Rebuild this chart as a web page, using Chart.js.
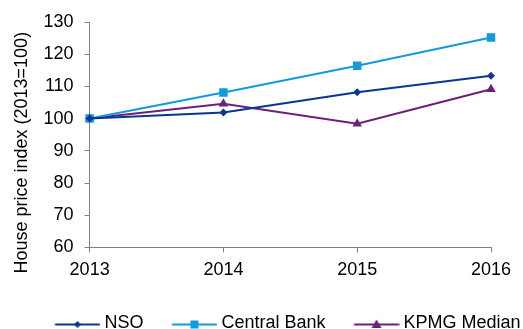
<!DOCTYPE html>
<html lang="en">
<head>
  <meta charset="UTF-8">
  <title>House price index</title>
  <style>
    html, body { margin: 0; padding: 0; background: #fff; }
    #wrap { width: 523px; height: 329px; position: relative; }
  </style>
</head>
<body>
  <div id="wrap"><canvas id="grafico"></canvas></div>

  <script src="https://cdn.jsdelivr.net/npm/chart.js"></script>
  <script>
    const years = ['2013', '2014', '2015', '2016'];
    const nso = [100, 101.9, 108.2, 113.3];
    const centralBank = [100, 108.1, 116.4, 125.2];
    const kpmgMedian = [100, 104.6, 98.4, 109.1];
    const yTicks = [60, 70, 80, 90, 100, 110, 120, 130];

    const fontFam = '"Liberation Sans", Arial, sans-serif';

    // line with the marker in the middle, used as the legend symbol;
    // the legend box is 58 wide, the line sits in its right part
    function legendSymbol(color, style) {
      const c = document.createElement('canvas');
      c.width = 68; c.height = 18;
      const ctx = c.getContext('2d');
      const cy = 10.5, x0 = 22.5, mx = x0 + 22.5;
      ctx.strokeStyle = color;
      ctx.fillStyle = color;
      ctx.lineWidth = 2;
      ctx.beginPath();
      ctx.moveTo(x0, cy); ctx.lineTo(x0 + 45, cy);
      ctx.stroke();
      ctx.beginPath();
      if (style === 'rectRot') {
        ctx.moveTo(mx, cy - 3.5); ctx.lineTo(mx + 3.5, cy); ctx.lineTo(mx, cy + 3.5); ctx.lineTo(mx - 3.5, cy);
      } else if (style === 'rect') {
        ctx.rect(mx - 4, cy - 4, 8, 8);
      } else {
        ctx.moveTo(mx, cy - 5); ctx.lineTo(mx + 5, cy + 3.5); ctx.lineTo(mx - 5, cy + 3.5);
      }
      ctx.closePath();
      ctx.fill();
      return c;
    }

    const series = [
      { label: 'NSO', data: nso, color: '#0a3691', style: 'rectRot', r: 4 },
      { label: 'Central Bank', data: centralBank, color: '#129ade', style: 'rect', r: 6 },
      { label: 'KPMG Median', data: kpmgMedian, color: '#6c2077', style: 'triangle', r: 5.5 }
    ];

    // nudge the legend row into place under the plot
    const legendShift = {
      id: 'legendShift',
      afterLayout(chart) {
        const lg = chart.legend;
        const dx = 17.5, dy = 15;
        lg.left += dx; lg.right += dx;
        lg.top += dy; lg.bottom += dy;
      }
    };

    const lienzo = document.querySelector('#grafico');

    new Chart(lienzo, {
      type: 'line',
      data: {
        labels: years,
        datasets: series.map(s => ({
          label: s.label,
          data: s.data,
          borderColor: s.color,
          backgroundColor: s.color,
          pointBorderColor: s.color,
          borderWidth: 2,
          pointStyle: s.style,
          pointRadius: s.r,
          pointBorderWidth: 0,
          tension: 0
        }))
      },
      plugins: [legendShift],
      options: {
        responsive: true,
        maintainAspectRatio: false,
        animation: false,
        layout: { padding: { left: 0, right: 0, top: 22, bottom: 2 } },
        plugins: {
          tooltip: { enabled: false },
          legend: {
            position: 'bottom',
            labels: {
              usePointStyle: true,
              pointStyleWidth: 58,
              padding: 11,
              color: '#000',
              font: { family: fontFam, size: 18 },
              generateLabels: chart => series.map((s, i) => ({
                text: s.label,
                pointStyle: legendSymbol(s.color, s.style),
                fillStyle: s.color,
                strokeStyle: s.color,
                lineWidth: 0,
                datasetIndex: i,
                fontColor: '#000'
              }))
            }
          }
        },
        scales: {
          x: {
            offset: false,
            // keep room on the right for the last year label
            afterFit: axis => { axis.paddingRight = 32; },
            grid: { drawOnChartArea: false, drawTicks: true, tickLength: 5, tickColor: '#808080' },
            border: { color: '#808080', width: 1 },
            ticks: { color: '#000', font: { family: fontFam, size: 18 }, padding: 7, maxRotation: 0 }
          },
          y: {
            min: 60,
            max: 130,
            afterBuildTicks: axis => { axis.ticks = yTicks.map(v => ({ value: v })); },
            grid: { drawOnChartArea: false, drawTicks: true, tickLength: 5, tickColor: '#808080' },
            border: { color: '#808080', width: 1 },
            ticks: { color: '#000', font: { family: fontFam, size: 18 }, padding: 11 },
            title: {
              display: true,
              // trailing en spaces push the title a bit toward the bottom
              text: 'House price index (2013=100)\u2002\u2002\u2002\u2002',
              color: '#000',
              font: { family: fontFam, size: 18 },
              padding: { top: 11, bottom: 0 }
            }
          }
        }
      }
    });
  </script>
</body>
</html>
